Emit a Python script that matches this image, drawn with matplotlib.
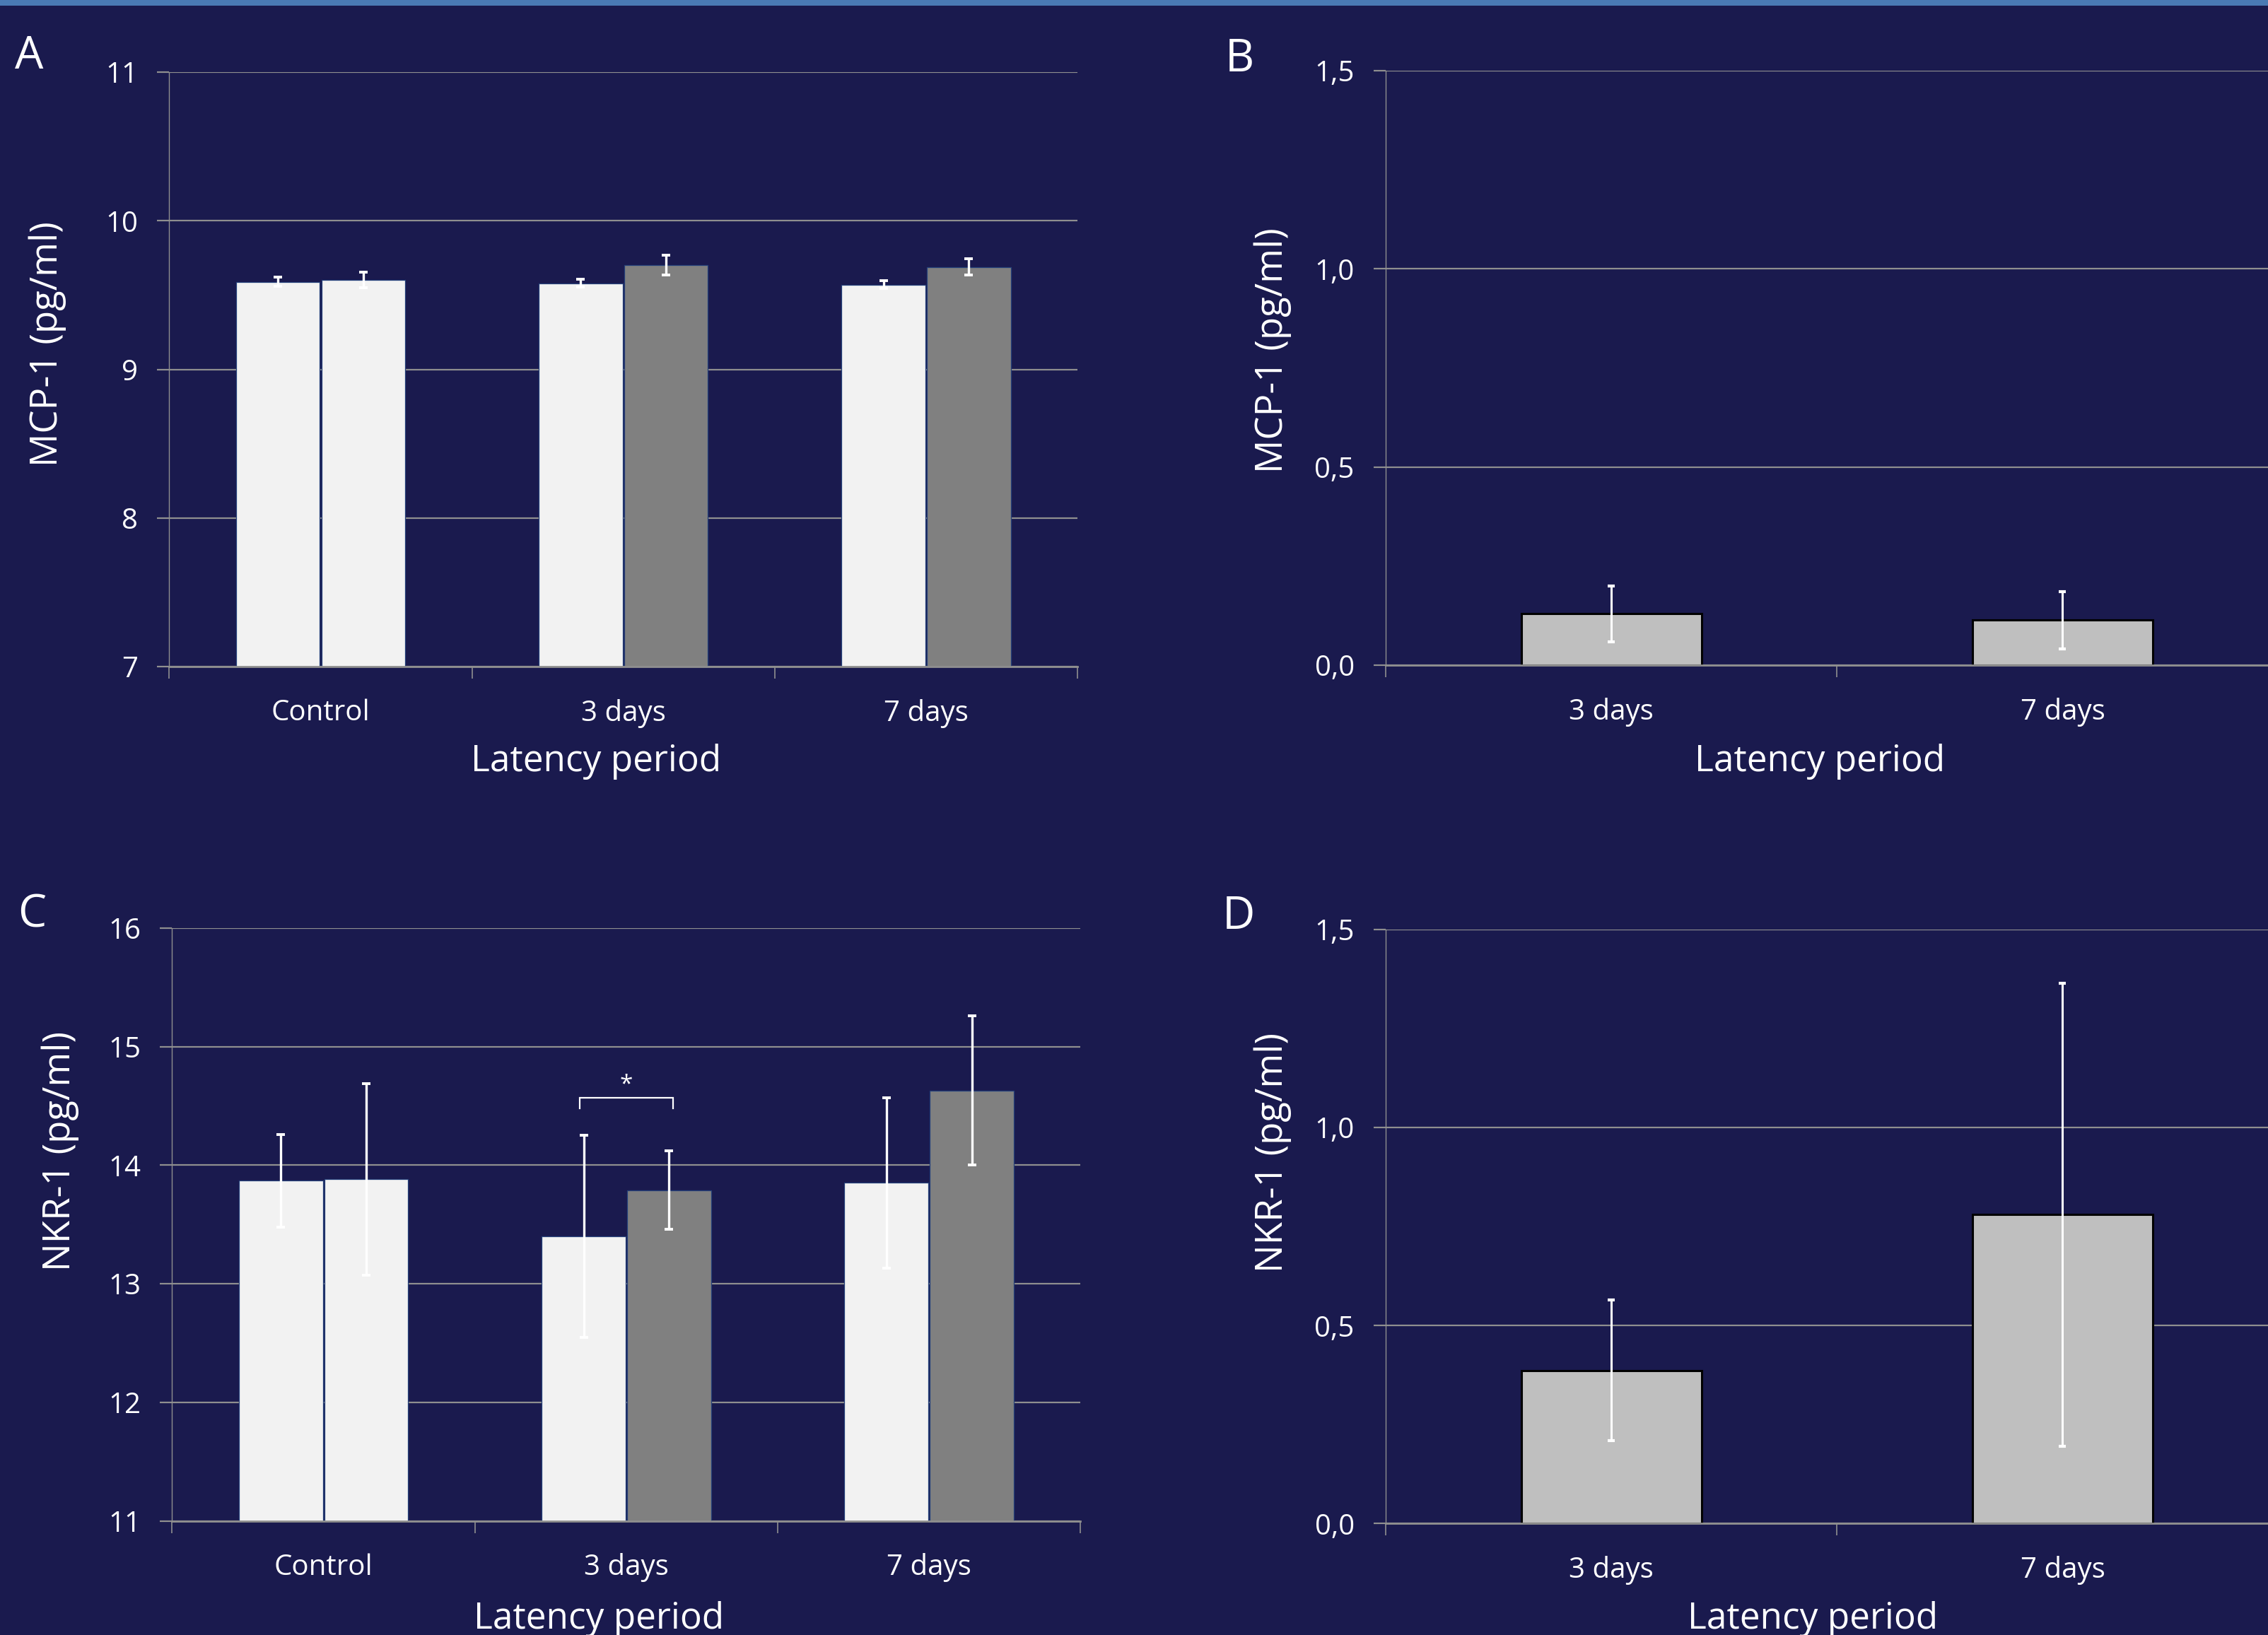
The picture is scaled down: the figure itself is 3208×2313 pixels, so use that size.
import matplotlib
matplotlib.use("Agg")
import matplotlib.pyplot as plt
import numpy as np
from matplotlib.patches import Rectangle

plt.rcParams['font.family'] = ['Open Sans', 'DejaVu Sans']

BG = '#1a1a4e'
GRID = '#8f8f8f'
WHITE = '#ffffff'
LIGHT = '#f2f2f2'
DARK = '#808080'
SINGLE = '#bfbfbf'

# ---------------- data ----------------
groups3 = ['Control', '3 days', '7 days']
groups2 = ['3 days', '7 days']

mcp_s1 = [9.59, 9.58, 9.57]
mcp_s1_err = [0.033, 0.027, 0.027]
mcp_s2 = [9.60, 9.70, 9.69]
mcp_s2_err = [0.052, 0.067, 0.055]
mcp_s2_colors = [LIGHT, DARK, DARK]

mcp_single = [0.129, 0.113]
mcp_single_err = [0.071, 0.072]

nkr_s1 = [13.87, 13.40, 13.85]
nkr_s1_err = [0.39, 0.85, 0.72]
nkr_s2 = [13.88, 13.79, 14.63]
nkr_s2_err = [0.81, 0.33, 0.63]
nkr_s2_colors = [LIGHT, DARK, DARK]

nkr_single = [0.387, 0.780]
nkr_single_err = [0.178, 0.584]

mcp_ticks = [7, 8, 9, 10, 11]
nkr_ticks = [11, 12, 13, 14, 15, 16]
ratio_ticks = [0.0, 0.5, 1.0, 1.5]
ratio_ticklabels = ['0,0', '0,5', '1,0', '1,5']

# ---------------- figure ----------------
fig = plt.figure(figsize=(32.08, 23.13), dpi=100, facecolor=BG)
fig.patches.append(Rectangle((0, 1 - 0.0036), 1, 0.0036, transform=fig.transFigure,
                             facecolor='#4a7ab4', edgecolor='none', zorder=10))

TICK_FS = 29
XLABEL_FS = 37
YLABEL_FS = 38


def style_axes(ax, nb_cat):
    ax.set_facecolor(BG)
    ax.set_axisbelow(True)
    for s in ['top', 'right']:
        ax.spines[s].set_visible(False)
    ax.spines['left'].set_color(GRID)
    ax.spines['left'].set_linewidth(1.0)
    ax.spines['bottom'].set_color(GRID)
    ax.spines['bottom'].set_linewidth(2.0)
    ax.grid(axis='y', color=GRID, linewidth=1.6)
    ax.set_xlim(-0.5, nb_cat - 0.5)
    ax.set_xticks(np.arange(nb_cat))
    ax.set_xticks(np.arange(nb_cat + 1) - 0.5, minor=True)
    ax.tick_params(axis='x', which='major', length=0, pad=33, labelsize=TICK_FS, labelcolor=WHITE)
    ax.tick_params(axis='x', which='minor', length=12, width=1.2, color=GRID, direction='out')
    ax.tick_params(axis='y', which='major', length=12, width=1.6, color=GRID, direction='out',
                   pad=20, labelsize=TICK_FS, labelcolor=WHITE)


def set_labels(ax, ylab, xl, yl):
    ax.set_xlabel('Latency period', fontsize=XLABEL_FS, color=WHITE)
    ax.xaxis.set_label_coords(xl[0], xl[1])
    ax.xaxis.label.set_va('center')
    ax.set_ylabel(ylab, fontsize=YLABEL_FS, color=WHITE)
    ax.yaxis.set_label_coords(yl[0], yl[1])
    ax.yaxis.label.set_va('center')


def paired(ax, cats, v1, e1, v2, e2, c2, ticks, ylab, xl, yl):
    x = np.arange(len(cats))
    w = 0.277
    off = 0.141
    ax.bar(x - off, v1, w, color=LIGHT, edgecolor='#24407a', linewidth=0.9, zorder=2)
    ax.bar(x + off, v2, w, color=c2, edgecolor='#24407a', linewidth=0.9, zorder=2)
    ax.errorbar(x - off, v1, yerr=e1, fmt='none', ecolor=WHITE, elinewidth=2.4,
                capsize=4.5, capthick=2.8, zorder=3)
    ax.errorbar(x + off, v2, yerr=e2, fmt='none', ecolor=WHITE, elinewidth=2.4,
                capsize=4.5, capthick=2.8, zorder=3)
    style_axes(ax, len(cats))
    ax.set_ylim(ticks[0], ticks[-1])
    ax.set_yticks(ticks)
    ax.set_yticklabels([str(t) for t in ticks])
    ax.set_xticklabels(cats)
    set_labels(ax, ylab, xl, yl)


def single(ax, cats, v, e, ylab, xl, yl):
    x = np.arange(len(cats))
    ax.bar(x, v, 0.40, color=SINGLE, edgecolor='black', linewidth=2.2, zorder=2)
    ax.errorbar(x, v, yerr=e, fmt='none', ecolor=WHITE, elinewidth=2.2,
                capsize=3.5, capthick=3, zorder=3)
    style_axes(ax, len(cats))
    ax.set_ylim(0, 1.5)
    ax.set_yticks(ratio_ticks)
    ax.set_yticklabels(ratio_ticklabels)
    ax.set_xticklabels(cats)
    set_labels(ax, ylab, xl, yl)


axA = fig.add_axes([0.0746, 0.5924, 0.4751 - 0.0746, 0.9558 - 0.5924])
axB = fig.add_axes([0.611, 0.5933, 1.0089 - 0.611, 0.9567 - 0.5933])
axC = fig.add_axes([0.0759, 0.0698, 0.4764 - 0.0759, 0.4324 - 0.0698])
axD = fig.add_axes([0.611, 0.0681, 1.0089 - 0.611, 0.4315 - 0.0681])

paired(axA, groups3, mcp_s1, mcp_s1_err, mcp_s2, mcp_s2_err, mcp_s2_colors,
       mcp_ticks, 'MCP-1 (pg/ml)', (0.470, -0.160), (-0.134, 0.543))
single(axB, groups2, mcp_single, mcp_single_err, 'MCP-1 (pg/ml)',
       (0.481, -0.163), (-0.125, 0.530))
paired(axC, groups3, nkr_s1, nkr_s1_err, nkr_s2, nkr_s2_err, nkr_s2_colors,
       nkr_ticks, 'NKR-1 (pg/ml)', (0.470, -0.166), (-0.123, 0.624))
single(axD, groups2, nkr_single, nkr_single_err, 'NKR-1 (pg/ml)',
       (0.473, -0.161), (-0.125, 0.625))

# significance bracket in panel C
bx1, bx2 = 1 - 0.155, 1 + 0.155
axC.plot([bx1, bx1, bx2, bx2], [14.48, 14.57, 14.57, 14.48], color=WHITE,
         linewidth=1.6, zorder=4, solid_joinstyle='miter')
axC.text(1.0, 14.58, '*', ha='center', va='bottom', fontsize=24, color=WHITE, zorder=4)

# panel letters
for letter, (px, py) in zip(['A', 'B', 'C', 'D'],
                            [(0.0128, 0.9655), (0.5466, 0.9637), (0.014, 0.4403), (0.546, 0.4394)]):
    fig.text(px, py, letter, ha='center', va='center', fontsize=46, color=WHITE)

fig.savefig('out.png', dpi=100, facecolor=BG)
